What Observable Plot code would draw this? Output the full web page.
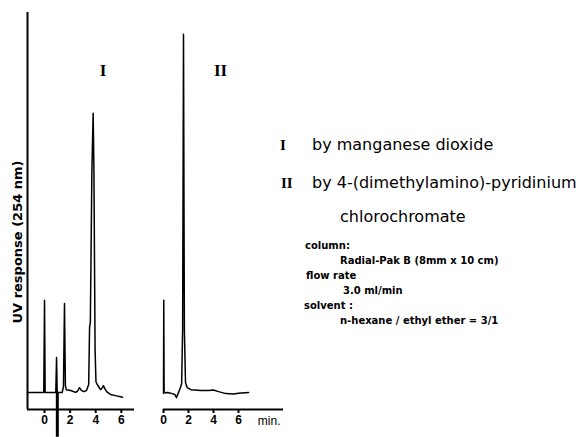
<!DOCTYPE html>
<html>
<head>
<meta charset="utf-8">
<script src="https://cdn.jsdelivr.net/npm/d3@7"></script>
<script src="https://cdn.jsdelivr.net/npm/@observablehq/plot@0.6"></script>
<style>
  html, body { margin: 0; padding: 0; background: #fff; }
  #wrap { position: relative; width: 581px; height: 437px; overflow: hidden; background: #fff; }
  #wrap svg { position: absolute; top: 0; background: transparent; }
  .t { position: absolute; white-space: nowrap; color: #000; line-height: 1; }
  .big { font-family: "DejaVu Sans", sans-serif; font-size: 16px; }
  .rn { font-family: "Liberation Serif", serif; font-weight: bold; font-size: 15px; }
  .small { position: absolute; left: 0; top: 238px; font-family: "DejaVu Sans", sans-serif; font-weight: bold; font-size: 10px; line-height: 15px; white-space: nowrap; }
</style>
</head>
<body>
<div id="wrap">
  <div class="t rn" style="left:280px; top:138px;">I</div>
  <div class="t big" style="left:312px; top:137px;">by manganese dioxide</div>
  <div class="t rn" style="left:281px; top:176px;">II</div>
  <div class="t big" style="left:312px; top:175px;">by 4-(dimethylamino)-pyridinium</div>
  <div class="t big" style="left:340px; top:209px;">chlorochromate</div>
  <div class="small">
    <div style="margin-left:305px">column:</div>
    <div style="margin-left:340px">Radial-Pak B (8mm x 10 cm)</div>
    <div style="margin-left:306px">flow rate</div>
    <div style="margin-left:343px">3.0 ml/min</div>
    <div style="margin-left:304px">solvent :</div>
    <div style="margin-left:340px">n-hexane / ethyl ether = 3/1</div>
  </div>
</div>
<script>
// ---- data (time in min, UV response in arbitrary units) ----
const timeI = [-1.33, -0.06, 0.00, 0.05, 0.88, 0.94, 0.99, 1.38, 1.48, 1.56, 1.63, 1.70, 2.05, 2.42, 2.58, 2.73, 2.88, 3.05, 3.28, 3.45, 3.52, 3.58, 3.70, 3.80, 3.86, 3.95, 4.02, 4.12, 4.38, 4.50, 4.60, 4.75, 4.92, 5.16, 5.55, 6.10];
const respI = [4.3, 4.3, 27.5, 4.3, 4.3, 13.1, 4.3, 4.3, 5.8, 26.7, 6.0, 5.0, 4.8, 4.3, 4.6, 5.5, 4.8, 4.5, 4.8, 6.3, 20.7, 22.0, 60.0, 74.6, 60.0, 15.0, 7.0, 6.3, 5.0, 5.4, 6.0, 5.0, 4.3, 3.8, 3.5, 3.1];
const timeII = [0.00, 0.02, 0.05, 0.35, 0.70, 0.90, 1.04, 1.20, 1.35, 1.45, 1.53, 1.60, 1.67, 1.76, 1.90, 2.20, 3.00, 3.60, 4.00, 4.40, 5.00, 5.60, 6.00, 6.80];
const respII = [4.0, 27.5, 4.2, 4.3, 4.0, 3.8, 3.0, 4.3, 5.5, 6.5, 20.0, 94.5, 20.0, 6.8, 5.5, 5.0, 4.8, 4.8, 4.9, 4.5, 4.0, 3.9, 4.1, 4.3];
const markerI = [{t: 1.0, top: 4.3, bottom: -7}];
const ticks = [0, 2, 4, 6];
const domainI = [-1.33, 7.03];
const domainII = [0, 9.6];
const yDomain = [0, 100];
const yLabel = "UV response (254 nm)";
const panelNames = ["I", "II"];
const unitLabel = "min.";

const traceI = timeI.map((t, i) => ({t, v: respI[i]}));
const traceII = timeII.map((t, i) => ({t, v: respII[i]}));

const common = {
  height: 437,
  marginTop: 12,
  marginBottom: 28,
  y: {domain: yDomain, axis: null},
  style: {fontFamily: "Liberation Sans, sans-serif", fontSize: "12px", fontWeight: "bold", color: "black", background: "transparent", overflow: "visible"}
};

const p1 = Plot.plot({
  ...common,
  width: 150,
  marginLeft: 27,
  marginRight: 16,
  x: {domain: domainI},
  marks: [
    Plot.ruleX([domainI[0]], {stroke: "black", strokeWidth: 2}),
    Plot.ruleY([0], {stroke: "black", strokeWidth: 2}),
    Plot.axisX({ticks, tickSize: 4, tickPadding: 2, tickFormat: d => String(d), label: null, fontSize: 12, fontWeight: "bold", strokeWidth: 2}),
    Plot.line(traceI, {x: "t", y: "v", stroke: "black", strokeWidth: 1.5}),
    Plot.ruleX(markerI, {x: "t", y1: "top", y2: "bottom", stroke: "black", strokeWidth: 3}),
    Plot.text([yLabel], {text: d => d, frameAnchor: "left", rotate: -90, dx: -10, dy: 31, textAnchor: "middle", lineAnchor: "middle", fontSize: 13, fontWeight: "bold", fontFamily: "DejaVu Sans, sans-serif"}),
    Plot.text([panelNames[0]], {text: d => d, frameAnchor: "top", dx: 22, dy: 58, lineAnchor: "middle", fontSize: 17, fontWeight: "bold", fontFamily: "Liberation Serif, serif"})
  ]
});
p1.style.left = "0px";

const p2 = Plot.plot({
  ...common,
  width: 140,
  marginLeft: 13,
  marginRight: 7,
  x: {domain: domainII},
  marks: [
    Plot.ruleY([0], {stroke: "black", strokeWidth: 2}),
    Plot.axisX({ticks, tickSize: 4, tickPadding: 2, tickFormat: d => String(d), label: null, fontSize: 12, fontWeight: "bold", strokeWidth: 2}),
    Plot.line(traceII, {x: "t", y: "v", stroke: "black", strokeWidth: 1.5}),
    Plot.text([unitLabel], {text: d => d, frameAnchor: "bottom-right", dx: -3, dy: 12, textAnchor: "end", lineAnchor: "middle", fontSize: 12, fontWeight: "normal"}),
    Plot.text([panelNames[1]], {text: d => d, frameAnchor: "top", dx: -3, dy: 58, lineAnchor: "middle", fontSize: 17, fontWeight: "bold", fontFamily: "Liberation Serif, serif"})
  ]
});
p2.style.left = "150px";

const wrap = document.getElementById("wrap");
wrap.appendChild(p1);
wrap.appendChild(p2);
</script>
</body>
</html>
